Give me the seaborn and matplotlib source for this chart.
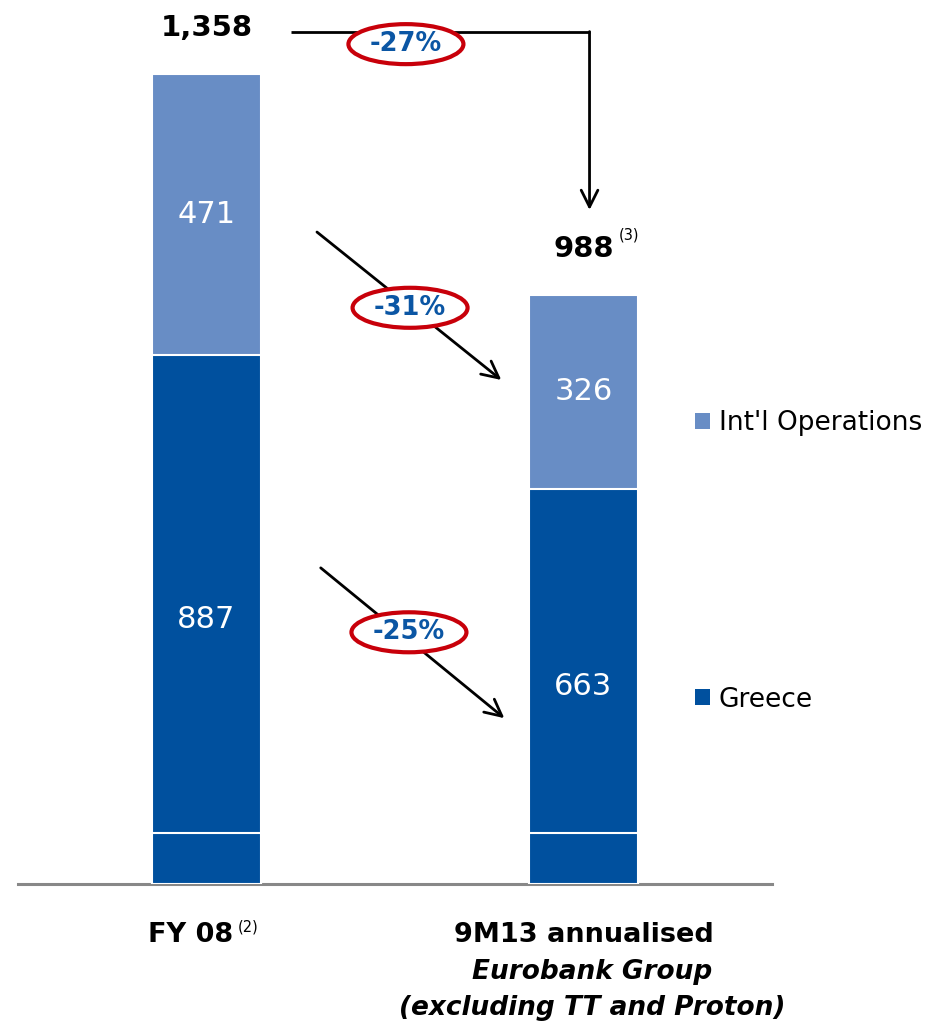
import matplotlib
matplotlib.use("Agg")
import matplotlib.pyplot as plt
import matplotlib.transforms as mtransforms
from matplotlib.patches import Patch, Ellipse
import seaborn as sns
import pandas as pd

# --- data -------------------------------------------------------------
periods = ["FY 08", "9M13 annualised"]
totals = [1358, 988]
intl_ops = [471, 326]
greece = [887, 663]
greece_base = [85, 85]          # lower block of the Greece bar
period_notes = ["(2)", ""]
total_notes = ["", "(3)"]
subtitle_lines = ["", "Eurobank Group\n(excluding TT and Proton)"]

df = pd.DataFrame({"period": periods, "intl": intl_ops, "greece": greece,
                   "base": greece_base, "total": totals})

# --- style ------------------------------------------------------------
sns.set_theme(style="white")
plt.rcParams["font.family"] = ["DejaVu Sans"]

LIGHT = "#688DC5"
DARK = "#00509E"
PCT_BLUE = "#0B56A4"
RED = "#C8000A"

W, H = 935, 1022
fig = plt.figure(figsize=(W / 100, H / 100), dpi=100)
ax = fig.add_axes([18 / W, 138 / H, (772 - 18) / W, 884 / H])

bar_w = 0.287
sns.barplot(data=df, x="period", y="total", color=LIGHT, width=bar_w,
            saturation=1, edgecolor="white", linewidth=1.5, ax=ax, zorder=2)
sns.barplot(data=df, x="period", y="greece", color=DARK, width=bar_w,
            saturation=1, edgecolor="white", linewidth=1.5, ax=ax, zorder=3)
sns.barplot(data=df, x="period", y="base", color=DARK, width=bar_w,
            saturation=1, edgecolor="white", linewidth=1.5, ax=ax, zorder=4)

ax.set_xlim(-0.5, 1.5)
ax.set_ylim(0, 1482)
ax.set_yticks([])
ax.set_xlabel("")
ax.set_ylabel("")
for side in ["left", "right", "top"]:
    ax.spines[side].set_visible(False)
ax.spines["bottom"].set_color("#888888")
ax.spines["bottom"].set_linewidth(2.2)
ax.tick_params(axis="x", length=0, pad=27)
ax.set_xticks(range(len(periods)))
ax.set_xticklabels(periods, fontsize=19.5, fontweight="bold", color="black")
# shift the first category label left so it and its note sit under the bar
first = ax.get_xticklabels()[0]
first.set_transform(first.get_transform() +
                    mtransforms.ScaledTranslation(-16 / 100, 0, fig.dpi_scale_trans))

# segment values inside the bars
for i in range(len(periods)):
    ax.text(i, greece[i] / 2, f"{greece[i]:,}", ha="center", va="center",
            color="white", fontsize=22, zorder=6)
    ax.text(i, greece[i] + intl_ops[i] / 2, f"{intl_ops[i]:,}", ha="center",
            va="center", color="white", fontsize=22, zorder=6)
    ax.annotate(f"{totals[i]:,}", xy=(i, totals[i]), xytext=(0, 33),
                textcoords="offset points", ha="center", va="center",
                fontsize=21, fontweight="bold", color="black")
    if total_notes[i]:
        ax.annotate(total_notes[i], xy=(i, totals[i]), xytext=(33, 43),
                    textcoords="offset points", ha="center", va="center",
                    fontsize=10.5, color="black")

# notes and second lines under the category labels
ax.annotate(period_notes[0], xy=(0, 0), xytext=(30, -31),
            textcoords="offset points", ha="center", va="center",
            fontsize=10.5, color="black", annotation_clip=False)
ax.annotate(subtitle_lines[1], xy=(1, 0), xytext=(6, -76),
            textcoords="offset points", ha="center", va="center",
            fontsize=19, fontweight="bold", fontstyle="italic",
            color="black", linespacing=1.5, annotation_clip=False)

# --- change arrows ----------------------------------------------------
arrow_kw = dict(arrowstyle="->,head_length=1.0,head_width=0.5", lw=2,
                color="black", shrinkA=0, shrinkB=0)
# total change: elbow arrow from the FY 08 total down to the 9M13 total
ax.plot([0.223, 1.016], [1428, 1428], color="black", lw=2, zorder=5,
        solid_capstyle="butt")
ax.annotate("", xy=(1.016, 1130), xytext=(1.016, 1429), arrowprops=arrow_kw,
            zorder=5)
# segment changes
ax.annotate("", xy=(0.782, 845), xytext=(0.293, 1093), arrowprops=arrow_kw,
            zorder=5)
ax.annotate("", xy=(0.790, 278), xytext=(0.303, 530), arrowprops=arrow_kw,
            zorder=5)

def pct(new, old):
    return f"{round((new / old - 1) * 100):d}%"

badges = [
    (0.529, 1408, pct(totals[1], totals[0])),
    (0.540, 966, pct(intl_ops[1], intl_ops[0])),
    (0.537, 422, pct(greece[1], greece[0])),
]
for bx, by, label in badges:
    # red ring of fixed size (inches) centred on the badge position
    ring_tf = fig.dpi_scale_trans + mtransforms.ScaledTranslation(bx, by, ax.transData)
    ax.add_patch(Ellipse((0, 0), 1.15, 0.40, transform=ring_tf, fc="white",
                         ec=RED, lw=3, zorder=7, clip_on=False))
    ax.text(bx, by, label, ha="center", va="center", fontsize=18.5,
            fontweight="bold", color=PCT_BLUE, zorder=8)

# legend
handles = [Patch(facecolor=LIGHT, edgecolor="none"),
           Patch(facecolor=DARK, edgecolor="none")]
fig.legend(handles, ["Int'l Operations", "Greece"], loc="upper left",
           bbox_to_anchor=(695 / W, 1 - 410 / H), frameon=False, fontsize=19,
           labelcolor="black", handlelength=0.55, handleheight=0.55,
           handletextpad=0.35, labelspacing=9.5, borderpad=0, borderaxespad=0)

fig.savefig("out.png", dpi=100)
